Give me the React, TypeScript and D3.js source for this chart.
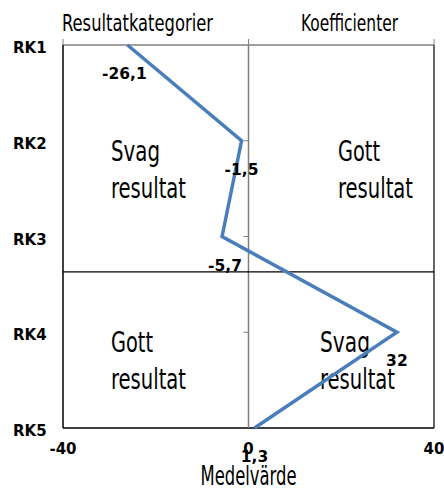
import React from "react";
import * as d3 from "d3";

const categories = ["RK1", "RK2", "RK3", "RK4", "RK5"];
const values = [-26.1, -1.5, -5.7, 32, 1.3];
const valueLabels = ["-26,1", "-1,5", "-5,7", "32", "1,3"];
const xTicks = [-40, 0, 40];
const dividerAt = 2.37; // horizontal split, in row units from RK1

const W = 444;
const H = 490;
const left = 63;
const right = 434;
const top = 45;
const bottom = 428;

const narrow = "'Liberation Sans Narrow', 'DejaVu Sans Condensed', sans-serif";
const bold = "'DejaVu Sans', Verdana, sans-serif";

const App = () => {
  const x = d3.scaleLinear().domain([-40, 40]).range([left, right]);
  const y = d3.scalePoint<string>().domain(categories).range([top, bottom]);
  const rowY = d3.scaleLinear().domain([0, categories.length - 1]).range([top, bottom]);

  const line = d3
    .line<number>()
    .x((d) => x(d))
    .y((_, i) => y(categories[i]) as number);

  const quad = (tx: number, ty: number, lines: string[], widths: number[]) =>
    lines.map((t, i) => (
      <text
        key={t + i}
        x={tx}
        y={ty + i * 37}
        fontFamily={narrow}
        fontSize={29}
        textLength={widths[i]}
        lengthAdjust="spacingAndGlyphs"
        fill="#000"
      >
        {t}
      </text>
    ));

  return (
    <svg
      width={W}
      height={H}
      style={{ position: "absolute", left: 0, top: 0, background: "#fff" }}
    >
      {/* header titles */}
      <text x={62} y={31} fontFamily={narrow} fontSize={23} textLength={151} lengthAdjust="spacingAndGlyphs">
        Resultatkategorier
      </text>
      <text x={301} y={31} fontFamily={narrow} fontSize={23} textLength={97} lengthAdjust="spacingAndGlyphs">
        Koefficienter
      </text>

      {/* top axis with outward ticks */}
      <line x1={left} x2={right} y1={top} y2={top} stroke="#808080" strokeWidth={1.5} />
      {xTicks.map((t) => (
        <line key={"tt" + t} x1={x(t)} x2={x(t)} y1={top} y2={top - 6} stroke="#808080" strokeWidth={1} />
      ))}

      {/* frame */}
      <line x1={left} x2={left} y1={top} y2={bottom} stroke="#000" strokeWidth={1.5} />
      <line x1={right} x2={right} y1={top} y2={bottom} stroke="#333" strokeWidth={1.5} />
      <line x1={left} x2={right} y1={bottom} y2={bottom} stroke="#000" strokeWidth={1.5} />

      {/* zero axis */}
      <line x1={x(0)} x2={x(0)} y1={top} y2={bottom} stroke="#808080" strokeWidth={1.5} />
      {categories.slice(1, -1).map((c) => (
        <line key={"zt" + c} x1={x(0) - 5} x2={x(0)} y1={y(c)} y2={y(c)} stroke="#808080" strokeWidth={1} />
      ))}

      {/* horizontal divider */}
      <line x1={left} x2={right} y1={rowY(dividerAt)} y2={rowY(dividerAt)} stroke="#000" strokeWidth={1.2} />

      {/* quadrant captions */}
      {quad(111, 161, ["Svag", "resultat"], [49, 75])}
      {quad(338, 161, ["Gott", "resultat"], [42, 75])}
      {quad(111, 352, ["Gott", "resultat"], [42, 75])}
      {quad(320, 352, ["Svag", "resultat"], [50, 75])}

      {/* series */}
      <path d={line(values) || ""} fill="none" stroke="#4a7ebb" strokeWidth={3.5} strokeLinejoin="miter" />

      {/* value labels */}
      {values.map((v, i) => (
        <text
          key={"vl" + i}
          x={x(v) + (i === 2 ? 3 : i === 0 ? -3 : 0)}
          y={(y(categories[i]) as number) + 34}
          textAnchor="middle"
          fontFamily={bold}
          fontWeight="bold"
          fontSize={15.5}
        >
          {valueLabels[i]}
        </text>
      ))}

      {/* category labels */}
      {categories.map((c) => (
        <text
          key={c}
          x={13}
          y={(y(c) as number) + 8}
          fontFamily={bold}
          fontWeight="bold"
          fontSize={15}
        >
          {c}
        </text>
      ))}

      {/* x tick labels */}
      {xTicks.map((t) => (
        <text
          key={"xl" + t}
          x={x(t)}
          y={bottom + 26}
          textAnchor="middle"
          fontFamily={bold}
          fontWeight="bold"
          fontSize={15}
        >
          {t}
        </text>
      ))}

      {/* x axis title */}
      <text x={x(0)} y={485} textAnchor="middle" fontFamily={narrow} fontSize={26} textLength={96} lengthAdjust="spacingAndGlyphs">
        Medelvärde
      </text>
    </svg>
  );
};

export default App;
